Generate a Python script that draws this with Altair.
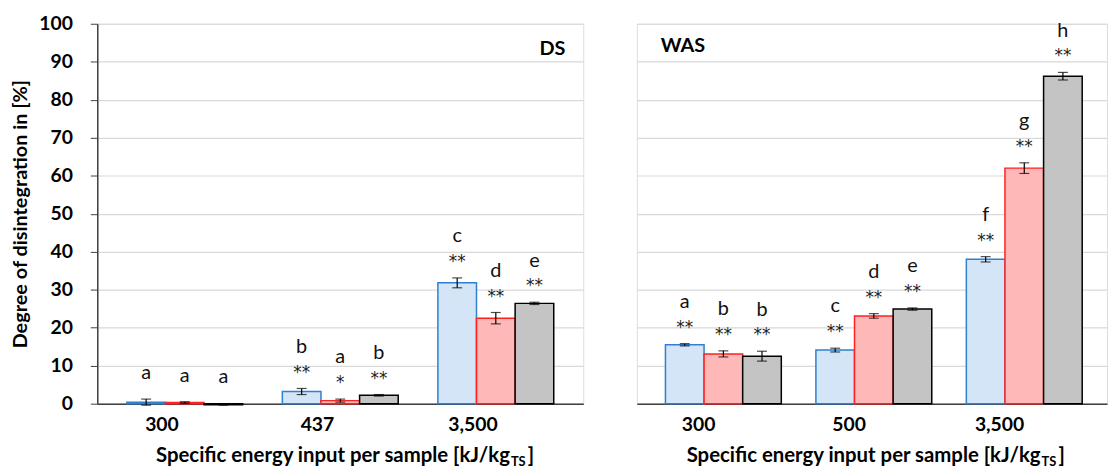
import altair as alt
import pandas as pd

# ---------------- data ----------------
series = ["S1", "S2", "S3"]
ds_groups = ["300", "437", "3,500"]
ds_values = [0.4, 0.3, -0.3, 3.2, 0.8, 2.2, 31.8, 22.5, 26.4]
ds_errors = [0.8, 0.2, 0.1, 0.8, 0.4, 0.2, 1.3, 1.5, 0.3]
ds_letters = ["a", "a", "a", "b", "a", "b", "c", "d", "e"]
ds_stars = ["", "", "", "**", "*", "**", "**", "**", "**"]

was_groups = ["300", "500", "3,500"]
was_values = [15.5, 13.1, 12.5, 14.1, 23.1, 24.9, 38.0, 62.0, 86.2]
was_errors = [0.3, 0.8, 1.3, 0.5, 0.6, 0.3, 0.7, 1.4, 1.0]
was_letters = ["a", "b", "b", "c", "d", "e", "f", "g", "h"]
was_stars = ["**"] * 9

y_ticks = list(range(0, 101, 10))

stroke_colors = ["#2F80D0", "#FF2020", "#000000"]
fill_colors = ["#d3e5f6", "#ffb8b8", "#c4c4c4"]

FONT = "Lato"
STAR_FONT = "DejaVu Sans"


def make_df(groups, values, errors, letters, stars):
    rows = []
    for i, (v, e, l, s) in enumerate(zip(values, errors, letters, stars)):
        g = groups[i // 3]
        ser = series[i % 3]
        top = max(v, 0) + e
        rows.append(dict(group=g, series=ser, value=v, lo=v - e, hi=v + e,
                         top=top, letter=l, stars=s, has_stars=(s != "")))
    return pd.DataFrame(rows)


def panel(df, groups, width, height, show_y, label, label_x, label_align, label_y,
          title_x):
    base = alt.Chart(df)
    x = alt.X("group:N", sort=groups,
              scale=alt.Scale(paddingInner=0.255, paddingOuter=0.19),
              axis=alt.Axis(title=None, labelOffset=-23, labelFontSize=19.5,
                            labelFontWeight="bold", labelColor="black",
                            labelFont=FONT, labelPadding=12, ticks=False,
                            domainColor="#404040", domainWidth=1.5,
                            labelAngle=0, grid=False))
    xo = alt.XOffset("series:N", sort=series,
                     scale=alt.Scale(paddingInner=0, paddingOuter=0))
    if show_y:
        yaxis = alt.Axis(values=y_ticks, labelFontSize=19.5, labelOverlap=False,
                         labelFontWeight="bold", labelFont=FONT, labelColor="black",
                         tickSize=7, tickColor="#404040", labelPadding=18,
                         title="Degree of disintegration in [%]",
                         titleFontSize=20, titleFont=FONT, titleFontWeight="bold",
                         titleColor="black", titlePadding=8,
                         domainColor="#404040", domainWidth=1.5,
                         gridColor="#d9d9d9", gridWidth=1.2)
    else:
        yaxis = alt.Axis(values=y_ticks, labels=False, ticks=False,
                         domain=False, title=None, gridColor="#d9d9d9",
                         gridWidth=1.2)
    yscale = alt.Scale(domain=[0, 100], nice=False)

    bars = base.mark_bar(strokeWidth=1.5).encode(
        x=x, xOffset=xo,
        y=alt.Y("value:Q", scale=yscale, axis=yaxis),
        fill=alt.Fill("series:N", scale=alt.Scale(domain=series, range=fill_colors),
                      legend=None),
        stroke=alt.Stroke("series:N",
                          scale=alt.Scale(domain=series, range=stroke_colors),
                          legend=None),
    )
    err = base.mark_rule(color="black", strokeWidth=1.2).encode(
        x=x, xOffset=xo, y=alt.Y("lo:Q", scale=yscale, axis=yaxis), y2="hi:Q")
    cap_hi = base.mark_tick(color="black", size=10, thickness=1.2).encode(
        x=x, xOffset=xo, y=alt.Y("hi:Q", scale=yscale, axis=yaxis))
    cap_lo = base.mark_tick(color="black", size=10, thickness=1.2).encode(
        x=x, xOffset=xo, y=alt.Y("lo:Q", scale=yscale, axis=yaxis))

    stars_t = base.mark_text(font=STAR_FONT, fontSize=17, color="#222222",
                             baseline="middle", dy=-16).encode(
        x=x, xOffset=xo, y=alt.Y("top:Q", scale=yscale, axis=yaxis),
        text="stars:N")
    letters_s = base.transform_filter("datum.has_stars").mark_text(
        font=FONT, fontSize=20, color="#111111", baseline="middle", dy=-42).encode(
        x=x, xOffset=xo, y=alt.Y("top:Q", scale=yscale, axis=yaxis),
        text="letter:N")
    letters_n = base.transform_filter("!datum.has_stars").mark_text(
        font=FONT, fontSize=20, color="#111111", baseline="middle", dy=-26).encode(
        x=x, xOffset=xo, y=alt.Y("top:Q", scale=yscale, axis=yaxis),
        text="letter:N")

    lab = alt.Chart(pd.DataFrame({"t": [label]})).mark_text(
        font=FONT, fontSize=20, fontWeight="bold", color="black",
        align=label_align, baseline="middle").encode(
        text="t:N", x=alt.value(label_x), y=alt.value(label_y))

    tdf = pd.DataFrame({"main": ["Specific energy input per sample [kJ/kg"],
                        "sub": ["TS"], "close": ["]"]})
    t_main = alt.Chart(tdf).mark_text(
        font=FONT, fontSize=20.5, fontWeight="bold", color="black",
        align="right", baseline="alphabetic").encode(
        text="main:N", x=alt.value(title_x), y=alt.value(height + 59))
    t_sub = alt.Chart(tdf).mark_text(
        font=FONT, fontSize=13, fontWeight="bold", color="black",
        align="left", baseline="alphabetic").encode(
        text="sub:N", x=alt.value(title_x + 1), y=alt.value(height + 63))
    t_close = alt.Chart(tdf).mark_text(
        font=FONT, fontSize=20.5, fontWeight="bold", color="black",
        align="left", baseline="alphabetic").encode(
        text="close:N", x=alt.value(title_x + 18), y=alt.value(height + 59))

    return alt.layer(bars, err, cap_hi, cap_lo, stars_t, letters_s, letters_n,
                     lab, t_main, t_sub, t_close).properties(
        width=width, height=height)


ds_df = make_df(ds_groups, ds_values, ds_errors, ds_letters, ds_stars)
was_df = make_df(was_groups, was_values, was_errors, was_letters, was_stars)

left = panel(ds_df, ds_groups, 490, 383, True, "DS", 472, "right", 25, 416)
right = panel(was_df, was_groups, 474, 383, False, "WAS", 24, "left", 22, 407)

chart = alt.hconcat(left, right, spacing=52).properties(
    padding={"left": 2, "top": 3, "right": 0, "bottom": 0}
).configure_view(stroke="#404040", strokeWidth=1.5).configure(
    background="white")

chart.save("out.html", embed_options={"renderer": "svg", "actions": False})
